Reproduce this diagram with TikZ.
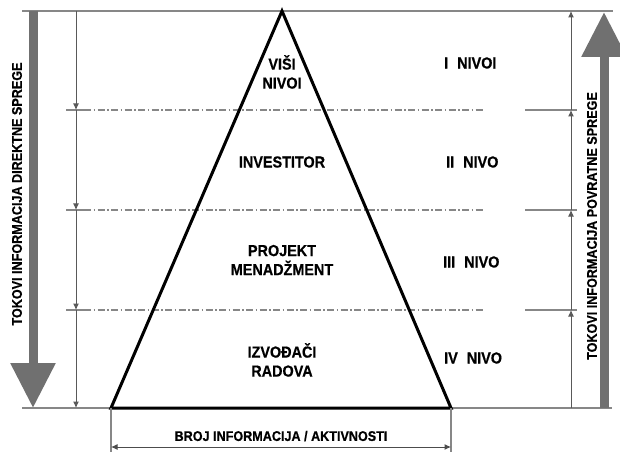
\documentclass[tikz,border=0pt]{standalone}
\usepackage{fontspec}
\setmainfont{Liberation Sans}[FakeStretch=0.9, BoldFeatures={FakeBold=0.6}]
\usetikzlibrary{arrows.meta}

\definecolor{flowgray}{RGB}{112,112,112}
\definecolor{rulegray}{RGB}{135,135,135}

\tikzstyle{level} = [font = \bfseries\fontsize{16}{19}\selectfont, align = center, inner sep = 0pt]
\tikzstyle{small} = [font = \bfseries\fontsize{14}{16}\selectfont, inner sep = 0pt]
\tikzstyle{flow} = [draw = flowgray, line width = 9pt, -{Triangle[length = 45pt, width = 43pt]}]
\tikzstyle{rule} = [draw = rulegray, line width = 1.2pt]
\tikzstyle{divider} = [draw = rulegray, line width = 1.2pt, dash pattern = on 7pt off 2.5pt on 1.5pt off 2.5pt]
\tikzstyle{stage} = [draw = black!65, line width = 1pt, -{Latex[length = 6.5pt, width = 6pt]}]

\begin{document}
\begin{tikzpicture}[x = 1pt, y = -1pt]
		\clip (0, 0) rectangle (620, 454);

		% frame lines
		\coordinate (tl) at (22, 11);
		\coordinate (tr) at (613, 11);
		\coordinate (bl) at (22, 408);
		\coordinate (br) at (612, 408);
		\draw [rule] (tl) -- (tr);
		\draw [rule] (bl) -- (br);

		% big flow arrows
		\coordinate (d0) at (33, 11);
		\coordinate (d1) at (33, 408);
		\coordinate (f0) at (604, 408);
		\coordinate (f1) at (604, 12);
		\draw [flow] (d0) -- (d1);
		\draw [flow] (f0) -- (f1);
		\node [small, rotate = 90] at (17, 194) (direct) {TOKOVI INFORMACIJA DIREKTNE SPREGE};
		\node [small, rotate = 90] at (592, 226) (feedback) {TOKOVI INFORMACIJA POVRATNE SPREGE};

		% level dividers
		\coordinate (a1) at (66, 110);  \coordinate (b1) at (84, 110);
		\coordinate (a2) at (66, 210);  \coordinate (b2) at (84, 210);
		\coordinate (a3) at (66, 310);  \coordinate (b3) at (84, 310);
		\coordinate (c1) at (483, 110); \coordinate (e1) at (525, 110); \coordinate (g1) at (577, 110);
		\coordinate (c2) at (483, 210); \coordinate (e2) at (525, 210); \coordinate (g2) at (577, 210);
		\coordinate (c3) at (483, 310); \coordinate (e3) at (525, 310); \coordinate (g3) at (577, 310);
		\draw [rule] (a1) -- (b1);
		\draw [rule] (a2) -- (b2);
		\draw [rule] (a3) -- (b3);
		\draw [divider] (b1) -- (c1);
		\draw [divider] (b2) -- (c2);
		\draw [divider] (b3) -- (c3);
		\draw [rule] (e1) -- (g1);
		\draw [rule] (e2) -- (g2);
		\draw [rule] (e3) -- (g3);

		% thin level arrows
		\coordinate (l0) at (76, 11);
		\coordinate (l1) at (76, 110);
		\coordinate (l2) at (76, 210);
		\coordinate (l3) at (76, 310);
		\coordinate (l4) at (76, 408);
		\draw [stage] (l0) -- (l1);
		\draw [stage] (l1) -- (l2);
		\draw [stage] (l2) -- (l3);
		\draw [stage] (l3) -- (l4);
		\coordinate (r0) at (571, 408);
		\coordinate (r1) at (571, 310);
		\coordinate (r2) at (571, 210);
		\coordinate (r3) at (571, 110);
		\coordinate (r4) at (571, 11);
		\draw [stage] (r0) -- (r1);
		\draw [stage] (r1) -- (r2);
		\draw [stage] (r2) -- (r3);
		\draw [stage] (r3) -- (r4);

		% pyramid
		\coordinate (apex) at (282, 11);
		\coordinate (left) at (111, 408);
		\coordinate (right) at (451, 408);
		\draw [line width = 3pt, line join = miter] (apex) -- (left) -- (right) -- cycle;

		\node [level] at (282, 72) (1) {VIŠI\\NIVOI};
		\node [level] at (282, 162) (2) {INVESTITOR};
		\node [level] at (282, 260) (3) {PROJEKT\\MENADŽMENT};
		\node [level] at (282, 360) (4) {IZVOĐAČI\\RADOVA};

		\node [level, anchor = west] at (444, 63) (n1) {I\hspace{9pt}NIVOI};
		\node [level, anchor = west] at (446, 162) (n2) {II\hspace{9pt}NIVO};
		\node [level, anchor = west] at (443, 262) (n3) {III\hspace{9pt}NIVO};
		\node [level, anchor = west] at (444, 358) (n4) {IV\hspace{9pt}NIVO};

		% width dimension
		\coordinate (w0) at (111, 452);
		\coordinate (w1) at (451, 452);
		\coordinate (w2) at (111, 447);
		\coordinate (w3) at (451, 447);
		\draw [rule] (left) -- (w0);
		\draw [rule] (right) -- (w1);
		\draw [draw = black!70, line width = 1pt, {Latex[length = 6.5pt, width = 6pt]}-{Latex[length = 6.5pt, width = 6pt]}] (w2) -- (w3);
		\node [small] at (281, 436) (count) {BROJ INFORMACIJA / AKTIVNOSTI};
	\end{tikzpicture}
\end{document}
